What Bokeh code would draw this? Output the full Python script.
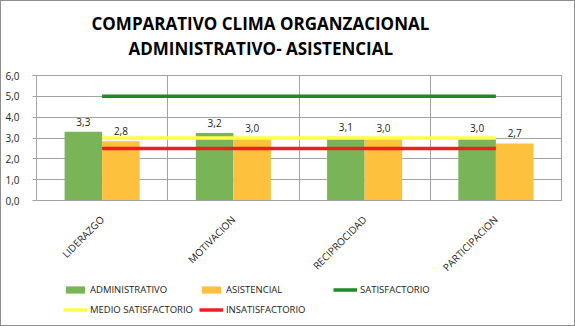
from bokeh.plotting import figure
from bokeh.layouts import column
from bokeh.models import (ColumnDataSource, FactorRange, Range1d, FixedTicker, LabelSet,
                          Legend, LegendItem, Title, Grid)
from bokeh.transform import dodge
from bokeh.core.properties import value
from bokeh.embed import file_html
from bokeh.resources import INLINE
import math

# ---- data ----
categories = ["LIDERAZGO", "MOTIVACION", "RECIPROCIDAD", "PARTICIPACION"]
administrativo = [3.30, 3.24, 3.06, 3.00]
asistencial = [2.84, 2.98, 2.98, 2.74]
satisfactorio = [5.0, 5.0, 5.0, 5.0]
medio_satisfactorio = [3.0, 3.0, 3.0, 3.0]
insatisfactorio = [2.5, 2.5, 2.5, 2.5]
y_ticks = [0, 1, 2, 3, 4, 5, 6]
y_tick_labels = ["0,0", "1,0", "2,0", "3,0", "4,0", "5,0", "6,0"]
series_names = ["ADMINISTRATIVO", "ASISTENCIAL", "SATISFACTORIO",
                "MEDIO SATISFACTORIO", "INSATISFACTORIO"]
title_lines = ["COMPARATIVO CLIMA ORGANZACIONAL", "ADMINISTRATIVO- ASISTENCIAL"]

FONT = "Open Sans"
GREEN = "#79b458"
ORANGE = "#fdc13d"
DKGREEN = "#1c8a27"
YELLOW = "#ffff45"
RED = "#f21d1d"
GRID = "#a3a3a3"
TXT = "#222222"


def fmt(v):
    return f"{v:.1f}".replace(".", ",")


src = ColumnDataSource(dict(
    cat=categories,
    admin=administrativo,
    asist=asistencial,
    admin_lbl=[fmt(v) for v in administrativo],
    asist_lbl=[fmt(v) for v in asistencial],
    sat=satisfactorio,
    med=medio_satisfactorio,
    ins=insatisfactorio,
))

p = figure(width=573, height=280, x_range=FactorRange(factors=categories),
           y_range=Range1d(0, 6), output_backend="svg", toolbar_location=None,
           min_border_left=35, min_border_right=13, min_border_top=74,
           min_border_bottom=79)
p.title = None
p.background_fill_color = "white"
p.border_fill_color = "white"
p.outline_line_color = GRID

# titles (first added is nearest frame)
spacer = Title(text=" ", text_font_size="1px", standoff=13)
t2 = Title(text=title_lines[1], align="left", offset=92, text_font=FONT,
           text_font_size="17px", text_font_style="bold", text_color="black",
           standoff=0)
t1 = Title(text=title_lines[0], align="left", offset=55, text_font=FONT,
           text_font_size="17px", text_font_style="bold", text_color="black",
           standoff=0)
p.add_layout(spacer, "above")
p.add_layout(t2, "above")
p.add_layout(t1, "above")

# grids: vertical lines at category boundaries (synthetic coords 0..n)
p.xgrid.visible = False
p.ygrid.grid_line_color = GRID
vgrid = Grid(dimension=0, ticker=FixedTicker(ticks=list(range(len(categories) + 1))),
             grid_line_color=GRID)
p.add_layout(vgrid)

# axes
p.yaxis.ticker = FixedTicker(ticks=y_ticks)
p.yaxis.major_label_overrides = {t: l for t, l in zip(y_ticks, y_tick_labels)}
p.yaxis.minor_tick_line_color = None
p.yaxis.axis_line_color = GRID
p.yaxis.major_tick_line_color = GRID
p.yaxis.major_tick_in = 0
p.yaxis.major_tick_out = 4
p.yaxis.major_label_standoff = 13
p.yaxis.major_label_text_font = FONT
p.yaxis.major_label_text_font_size = "10px"
p.yaxis.major_label_text_color = TXT

p.xaxis.axis_line_color = GRID
p.xaxis.major_tick_line_color = None
p.xaxis.major_label_orientation = math.pi / 4
p.xaxis.major_label_text_font = FONT
p.xaxis.major_label_text_font_size = "10px"
p.xaxis.major_label_text_color = TXT
p.xaxis.major_label_standoff = 11

w = 0.286
bar_styles = [dict(fill_color=GREEN, line_color=None), dict(fill_color=ORANGE, line_color=None)]
line_styles = [dict(line_color=DKGREEN, line_width=3.5), dict(line_color=YELLOW, line_width=3.5),
               dict(line_color=RED, line_width=3.5)]

p.vbar(x=dodge("cat", -w / 2, range=p.x_range), top="admin", width=w, source=src, **bar_styles[0])
p.vbar(x=dodge("cat", w / 2, range=p.x_range), top="asist", width=w, source=src, **bar_styles[1])
p.line(x="cat", y="sat", source=src, **line_styles[0])
p.line(x="cat", y="med", source=src, **line_styles[1])
p.line(x="cat", y="ins", source=src, **line_styles[2])

for ycol, tcol, off in [("admin", "admin_lbl", -w / 2), ("asist", "asist_lbl", w / 2)]:
    lbl = LabelSet(x=dodge("cat", off, range=p.x_range), y=ycol, text=tcol, source=src,
                   y_offset=6, text_align="center", text_baseline="bottom",
                   text_font=value(FONT), text_font_size="10px", text_color=TXT)
    p.add_layout(lbl)

# ---- legend strip (separate canvas below the chart so it is not clipped) ----
# proxy renderers use the same data but lie outside this strip's visible y range
lg = figure(width=573, height=44, x_range=FactorRange(factors=categories),
            y_range=Range1d(100, 101), output_backend="svg", toolbar_location=None,
            min_border=0, x_axis_location=None, y_axis_location=None)
lg.title = None
lg.grid.visible = False
lg.outline_line_color = None
lg.background_fill_color = "white"
lg.border_fill_color = "white"
k1 = lg.vbar(x="cat", top="admin", width=w, source=src, **bar_styles[0])
k2 = lg.vbar(x="cat", top="asist", width=w, source=src, **bar_styles[1])
k3 = lg.line(x="cat", y="sat", source=src, **line_styles[0])
k4 = lg.line(x="cat", y="med", source=src, **line_styles[1])
k5 = lg.line(x="cat", y="ins", source=src, **line_styles[2])

legend = Legend(items=[LegendItem(label=n, renderers=[r]) for n, r in
                       zip(series_names, [k1, k2, k3, k4, k5])],
                ncols=3, orientation="horizontal", location=(27, 9),
                glyph_width=24, glyph_height=9, label_standoff=3, label_height=14,
                label_width=101, spacing=6, padding=0, margin=0,
                border_line_color=None, background_fill_alpha=0,
                label_text_font=FONT, label_text_font_size="9.5px",
                label_text_color=TXT)
lg.add_layout(legend, "center")

root = column(p, lg, spacing=0, styles={"border": "1px solid #8f8f8f"})
open("out.html", "w").write(file_html(root, INLINE))
